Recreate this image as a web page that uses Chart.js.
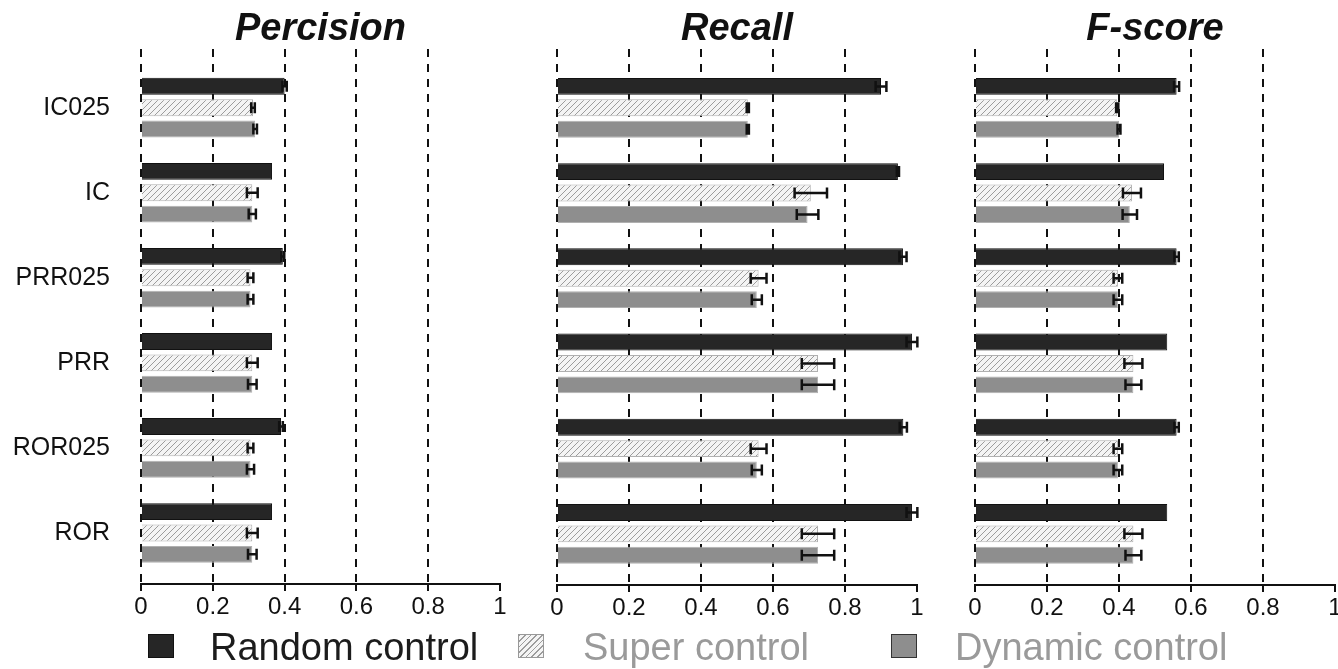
<!DOCTYPE html>
<html>
<head>
<meta charset="utf-8">
<script src="https://cdn.jsdelivr.net/npm/chart.js@4.4.0/dist/chart.umd.min.js"></script>
<style>
  html, body { margin: 0; padding: 0; background: #fff; overflow: hidden; width: 1338px; height: 669px; }
  .panel { position: absolute; top: 0; height: 630px; }
  .leg { position: absolute; top: 628px; font: 38px 'Liberation Sans', Arial, sans-serif; line-height: 38px; white-space: nowrap; }
  .sw { position: absolute; top: 634px; width: 26px; height: 24px; box-sizing: border-box; }
</style>
</head>
<body>
<div class="panel" style="left:0;width:520px"><canvas id="chart-1"></canvas></div>
<div class="panel" style="left:540px;width:397px"><canvas id="chart-2"></canvas></div>
<div class="panel" style="left:958px;width:390px"><canvas id="chart-3"></canvas></div>

<div class="sw" style="left:148px;background:#262626;border:1px solid #111"></div>
<div class="leg" style="left:210px;color:#1c1c1c">Random control</div>
<div class="sw" style="left:518px;border:1px solid #999;background:repeating-linear-gradient(135deg,#9c9c9c 0 1px,#f4f4f4 1px 4px)"></div>
<div class="leg" style="left:583px;color:#9a9a9a">Super control</div>
<div class="sw" style="left:891px;background:#8e8e8e;border:1px solid #333"></div>
<div class="leg" style="left:955px;color:#9a9a9a">Dynamic control</div>

<script>
const categories = ['IC025', 'IC', 'PRR025', 'PRR', 'ROR025', 'ROR'];
const xTicks = [0, 0.2, 0.4, 0.6, 0.8, 1];

// Percision
const precRandom = [0.40, 0.365, 0.395, 0.365, 0.39, 0.365];
const precRandomErr = [0.006, 0, 0.004, 0, 0.005, 0];
const precSuper = [0.312, 0.31, 0.305, 0.31, 0.305, 0.31];
const precSuperErr = [0.005, 0.015, 0.008, 0.015, 0.008, 0.015];
const precDynamic = [0.318, 0.31, 0.305, 0.31, 0.305, 0.31];
const precDynamicErr = [0.005, 0.01, 0.008, 0.012, 0.01, 0.012];

// Recall
const recRandom = [0.90, 0.947, 0.961, 0.986, 0.962, 0.986];
const recRandomErr = [0.015, 0.003, 0.01, 0.015, 0.01, 0.015];
const recSuper = [0.53, 0.705, 0.56, 0.725, 0.56, 0.725];
const recSuperErr = [0.003, 0.045, 0.022, 0.045, 0.022, 0.045];
const recDynamic = [0.53, 0.696, 0.555, 0.725, 0.555, 0.725];
const recDynamicErr = [0.003, 0.03, 0.014, 0.045, 0.014, 0.045];

// F-score
const fRandom = [0.56, 0.525, 0.56, 0.534, 0.56, 0.534];
const fRandomErr = [0.007, 0, 0.006, 0, 0.006, 0];
const fSuper = [0.395, 0.436, 0.397, 0.44, 0.397, 0.44];
const fSuperErr = [0.003, 0.025, 0.012, 0.025, 0.012, 0.025];
const fDynamic = [0.40, 0.43, 0.397, 0.44, 0.397, 0.44];
const fDynamicErr = [0.004, 0.02, 0.012, 0.022, 0.012, 0.022];

const FONT = "'Liberation Sans', Arial, sans-serif";

function hatch() {
  const c = document.createElement('canvas');
  c.width = 6; c.height = 6;
  const g = c.getContext('2d');
  g.fillStyle = '#f4f4f4';
  g.fillRect(0, 0, 6, 6);
  g.strokeStyle = '#9c9c9c';
  g.lineWidth = 1;
  g.beginPath();
  g.moveTo(0, 6); g.lineTo(6, 0);
  g.moveTo(-1, 1); g.lineTo(1, -1);
  g.moveTo(5, 7); g.lineTo(7, 5);
  g.stroke();
  return g.createPattern(c, 'repeat');
}
const hatchPattern = hatch();

const errorBars = {
  id: 'errorBars',
  afterDraw(chart) {
    const ctx = chart.ctx;
    const x = chart.scales.x;
    ctx.save();
    ctx.strokeStyle = '#111';
    ctx.lineWidth = 2.5;
    chart.data.datasets.forEach((ds, di) => {
      chart.getDatasetMeta(di).data.forEach((bar, i) => {
        const err = ds.errors[i];
        if (!err) return;
        const v = ds.data[i].x;
        const x1 = x.getPixelForValue(v - err);
        const x2 = x.getPixelForValue(v + err);
        const y = bar.y, h = 5.5;
        ctx.beginPath();
        ctx.moveTo(x1, y); ctx.lineTo(x2, y);
        ctx.moveTo(x1, y - h); ctx.lineTo(x1, y + h);
        ctx.moveTo(x2, y - h); ctx.lineTo(x2, y + h);
        ctx.stroke();
      });
    });
    ctx.restore();
  }
};

const points = vals => vals.map((v, i) => ({ x: v, y: i }));

function makeChart(id, title, series, showLabels, pad) {
  const [rnd, rndErr, sup, supErr, dyn, dynErr] = series;
  return new Chart(document.getElementById(id), {
    type: 'bar',
    data: {
      datasets: [
        { label: 'Random control', data: points(rnd), errors: rndErr,
          backgroundColor: '#262626', borderColor: '#111', borderWidth: 1 },
        { label: 'Super control', data: points(sup), errors: supErr,
          backgroundColor: hatchPattern, borderColor: '#b0b0b0', borderWidth: 1 },
        { label: 'Dynamic control', data: points(dyn), errors: dynErr,
          backgroundColor: '#8e8e8e', borderColor: '#b0b0b0', borderWidth: 1 }
      ]
    },
    options: {
      indexAxis: 'y',
      responsive: true,
      maintainAspectRatio: false,
      animation: false,
      categoryPercentage: 0.754,
      barPercentage: 0.79,
      layout: { padding: { left: pad[0], right: pad[1], top: 0, bottom: 0 } },
      plugins: {
        legend: { display: false },
        tooltip: { enabled: false },
        title: {
          display: true, text: title, fullSize: false, color: '#111',
          font: { family: FONT, size: 38, weight: 'bold', style: 'italic', lineHeight: 1 },
          padding: { top: 11, bottom: 0 }
        }
      },
      scales: {
        x: {
          type: 'linear', min: 0, max: 1, position: 'bottom', z: 1,
          afterBuildTicks: s => { s.ticks = xTicks.map(v => ({ value: v })); },
          afterFit: s => { s.height = 45; },
          ticks: { callback: v => String(v), font: { family: FONT, size: 24 }, color: '#111', padding: 2, maxRotation: 0, autoSkip: false },
          grid: {
            color: c => (c.index === xTicks.length - 1 ? 'rgba(0,0,0,0)' : '#111'),
            lineWidth: 2, drawTicks: true, tickLength: 7, tickColor: '#111', tickWidth: 2, tickBorderDash: []
          },
          border: { display: true, color: '#111', width: 2, dash: [8, 7] }
        },
        y: {
          type: 'linear', reverse: true, offset: false, min: -0.69, max: 5.6, display: showLabels,
          afterBuildTicks: s => { s.ticks = categories.map((c, i) => ({ value: i })); },
          afterFit: s => { s.width = showLabels ? 141 : 0; },
          grid: { display: false, drawTicks: false },
          border: { display: false },
          ticks: { callback: v => categories[v], font: { family: FONT, size: 25 }, color: '#111', padding: 31 }
        }
      }
    },
    plugins: [errorBars]
  });
}

makeChart('chart-1', 'Percision',
  [precRandom, precRandomErr, precSuper, precSuperErr, precDynamic, precDynamicErr], true, [0, 20]);
makeChart('chart-2', 'Recall',
  [recRandom, recRandomErr, recSuper, recSuperErr, recDynamic, recDynamicErr], false, [17, 20]);
makeChart('chart-3', 'F-score',
  [fRandom, fRandomErr, fSuper, fSuperErr, fDynamic, fDynamicErr], false, [17, 13]);
</script>
</body>
</html>
